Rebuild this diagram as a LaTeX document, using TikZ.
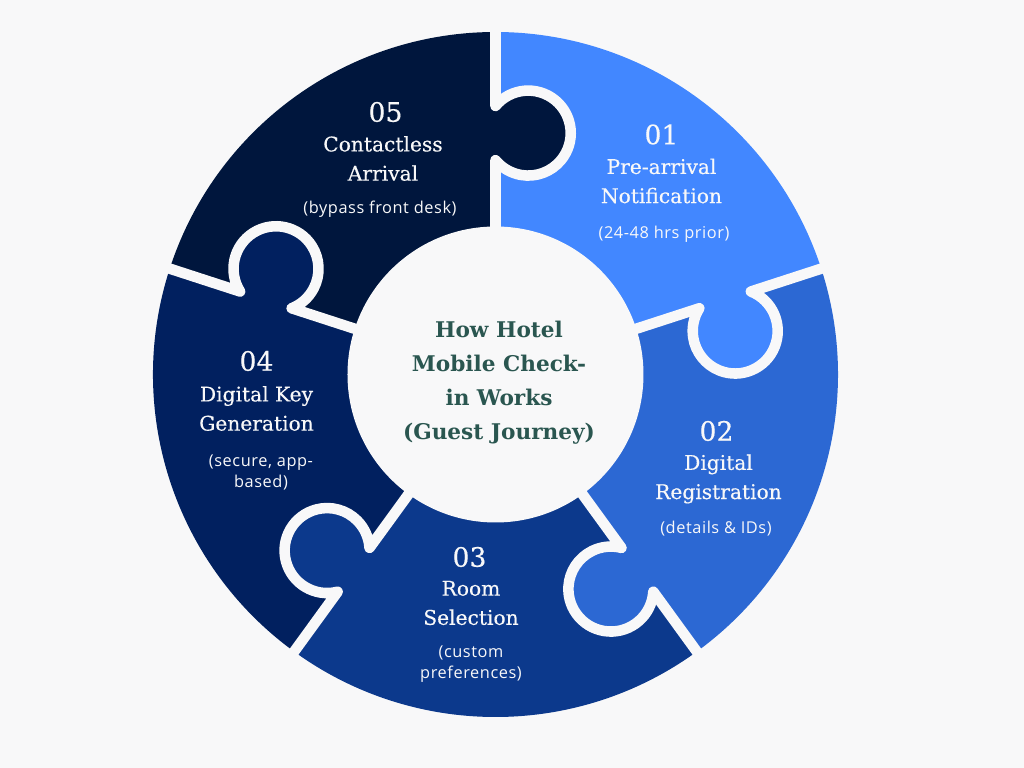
\documentclass[tikz,border=0pt]{standalone}
\usepackage{fontspec}
\usepackage{tikz}
\setmainfont{DejaVu Serif}
\newfontfamily\headfont[FakeBold=0.35]{DejaVu Serif}
\newfontfamily\subfont[LetterSpace=3.5]{Open Sans}
\definecolor{paper}{HTML}{F8F8F9}
\definecolor{blueA}{HTML}{4287FF}
\definecolor{blueB}{HTML}{2C68D3}
\definecolor{blueC}{HTML}{0C398C}
\definecolor{blueD}{HTML}{01205F}
\definecolor{blueE}{HTML}{00163D}
\definecolor{hubgreen}{HTML}{2A5650}
\newcommand{\slice}[2]{\fill[#2] (0,0) -- (90-#1:6.85) arc[start angle=90-#1,end angle=18-#1,radius=6.85] -- cycle;}
\newcommand{\seamline}[2]{%
  \begin{scope}[rotate=-#1]
    \fill[#2] (0.66,4.83) circle (0.85);
    \draw[seam] (0,7.05) -- (0,5.37) arc[start angle=140.4,end angle=-140.4,radius=0.85] -- (0,2.9);
  \end{scope}}

\begin{document}
\begin{tikzpicture}
  \tikzstyle{seam}=[draw=paper,line width=6pt,line join=round]
  \tikzstyle{num}=[text=paper,inner sep=0pt,font=\headfont\fontsize{15.2}{18}\selectfont]
  \tikzstyle{head}=[text=paper,inner sep=0pt,align=center,font=\headfont\fontsize{11.5}{16.6}\selectfont]
  \tikzstyle{sub}=[text=paper,inner sep=0pt,align=center,font=\subfont\fontsize{9.3}{12}\selectfont]
  \tikzstyle{hub}=[circle,fill=paper,minimum size=5.92cm,inner sep=0pt]
  \fill[paper] (-9.91,7.49) rectangle (10.57,-7.87);
  \draw (0,0) node (c){};

  \slice{0}{blueA}
  \slice{72}{blueB}
  \slice{144}{blueC}
  \slice{216}{blueD}
  \slice{288}{blueE}

  \seamline{0}{blueE}
  \seamline{72}{blueA}
  \seamline{144}{blueB}
  \seamline{216}{blueC}
  \seamline{288}{blueD}

  \draw (c) node[hub] (H){};
  \draw (c)++(0.07,-0.17) node[inner sep=0pt,align=center,text=hubgreen,font=\bfseries\fontsize{12.3}{19.4}\selectfont] (T){How Hotel\\Mobile Check-\\in Works\\(Guest Journey)};

  \draw (c)++(3.32,4.8) node[num] (n1){01};
  \draw (c)++(3.32,3.87) node[head] (t1){Pre-arrival\\Notification};
  \draw (c)++(3.37,2.8) node[sub] (s1){(24-48 hrs prior)};

  \draw (c)++(4.42,-1.13) node[num] (n2){02};
  \draw (c)++(4.46,-2.09) node[head] (t2){Digital\\Registration};
  \draw (c)++(4.41,-3.09) node[sub] (s2){(details \& IDs)};

  \draw (c)++(-0.52,-3.65) node[num] (n3){03};
  \draw (c)++(-0.49,-4.57) node[head] (t3){Room\\Selection};
  \draw (c)++(-0.49,-5.8) node[sub] (s3){(custom\\preferences)};

  \draw (c)++(-4.78,0.27) node[num] (n4){04};
  \draw (c)++(-4.78,-0.68) node[head] (t4){Digital Key\\Generation};
  \draw (c)++(-4.69,-1.96) node[sub] (s4){(secure, app-\\based)};

  \draw (c)++(-2.2,5.25) node[num] (n5){05};
  \draw (c)++(-2.25,4.32) node[head] (t5){Contactless\\Arrival};
  \draw (c)++(-2.31,3.31) node[sub] (s5){(bypass front desk)};
\end{tikzpicture}
\end{document}
